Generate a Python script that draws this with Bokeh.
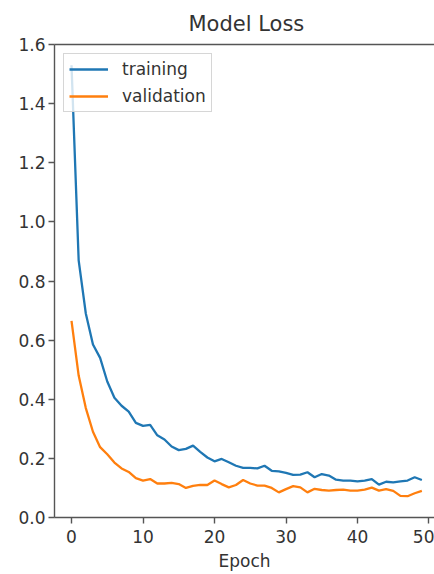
from bokeh.plotting import figure
from bokeh.models import (Range1d, FixedTicker, LinearAxis, Legend, LegendItem,
                          ColumnDataSource, NumeralTickFormatter)
from bokeh.embed import file_html
from bokeh.resources import INLINE

epochs = list(range(50))
training = [1.53, 0.87, 0.69, 0.585, 0.54, 0.46, 0.405, 0.378, 0.358, 0.32,
            0.31, 0.313, 0.278, 0.264, 0.24, 0.228, 0.232, 0.243, 0.222, 0.203,
            0.19, 0.198, 0.187, 0.175, 0.168, 0.168, 0.166, 0.175, 0.158, 0.156,
            0.151, 0.144, 0.145, 0.153, 0.136, 0.147, 0.142, 0.128, 0.125, 0.125,
            0.122, 0.125, 0.13, 0.111, 0.121, 0.119, 0.122, 0.125, 0.136, 0.127]
validation = [0.665, 0.48, 0.37, 0.29, 0.238, 0.214, 0.186, 0.166, 0.154, 0.133,
              0.125, 0.13, 0.115, 0.115, 0.117, 0.113, 0.10, 0.107, 0.11, 0.11,
              0.125, 0.113, 0.102, 0.11, 0.127, 0.115, 0.108, 0.108, 0.10, 0.085,
              0.096, 0.106, 0.102, 0.085, 0.097, 0.093, 0.091, 0.093, 0.094, 0.091,
              0.091, 0.094, 0.101, 0.091, 0.096, 0.09, 0.073, 0.072, 0.082, 0.09]
series_names = ["training", "validation"]
x_ticks = [0, 10, 20, 30, 40, 50]
y_ticks = [0.0, 0.2, 0.4, 0.6, 0.8, 1.0, 1.2, 1.4, 1.6]
title_text = "Model Loss"
x_label = "Epoch"

FONT = "DejaVu Sans"
TXT = "#333333"
AX = "#555555"

src = ColumnDataSource(dict(epoch=epochs, training=training, validation=validation))

p = figure(width=434, height=574, output_backend="svg", toolbar_location=None,
           x_range=Range1d(-2.38, 50.77), y_range=Range1d(0.0, 1.6),
           min_border_left=54, min_border_right=0, min_border_top=43, min_border_bottom=57,
           background_fill_color="white", border_fill_color="white")
p.outline_line_color = None
p.grid.visible = False

p.title.text = title_text
p.title.text_font = FONT
p.title.text_font_size = "21px"
p.title.text_font_style = "normal"
p.title.text_color = TXT
p.title.align = "left"
p.title.offset = 134
p.title.standoff = 18

for ax in (p.xaxis[0], p.yaxis[0]):
    ax.major_label_text_font = FONT
    ax.major_label_text_font_size = "17px"
    ax.major_label_text_color = TXT
    ax.axis_line_color = AX
    ax.axis_line_width = 1.4
    ax.major_tick_line_color = AX
    ax.major_tick_line_width = 1.4
    ax.major_tick_out = 6
    ax.major_tick_in = 0
    ax.minor_tick_line_color = None

p.yaxis.major_label_standoff = 3
p.xaxis.major_label_standoff = 6
p.xaxis.ticker = FixedTicker(ticks=x_ticks)
p.yaxis.ticker = FixedTicker(ticks=y_ticks)
p.yaxis.formatter = NumeralTickFormatter(format="0.0")
p.xaxis.axis_label = x_label
p.xaxis.axis_label_text_font = FONT
p.xaxis.axis_label_text_font_size = "17px"
p.xaxis.axis_label_text_font_style = "normal"
p.xaxis.axis_label_text_color = TXT
p.xaxis.axis_label_standoff = 5

top_spine = LinearAxis(ticker=FixedTicker(ticks=[]), major_label_text_font_size="0px",
                       major_tick_out=0, major_tick_in=0, major_label_standoff=0,
                       minor_tick_line_color=None, axis_line_color=AX, axis_line_width=1.4)
p.add_layout(top_spine, "above")

r1 = p.line("epoch", "training", source=src, line_color="#1f77b4", line_width=2.3)
r2 = p.line("epoch", "validation", source=src, line_color="#ff7f0e", line_width=2.3)

legend = Legend(items=[LegendItem(label=series_names[0], renderers=[r1]),
                       LegendItem(label=series_names[1], renderers=[r2])],
                location="top_left")
legend.margin = 9
legend.padding = 5
legend.spacing = 7
legend.glyph_width = 39
legend.glyph_height = 20
legend.label_height = 20
legend.label_standoff = 14
legend.label_text_font = FONT
legend.label_text_font_size = "17px"
legend.label_text_color = TXT
legend.border_line_color = "#cccccc"
legend.border_line_width = 1
legend.border_line_alpha = 0.8
legend.background_fill_color = "white"
legend.background_fill_alpha = 0.8
p.add_layout(legend, "center")

open("out.html", "w").write(file_html(p, INLINE))
